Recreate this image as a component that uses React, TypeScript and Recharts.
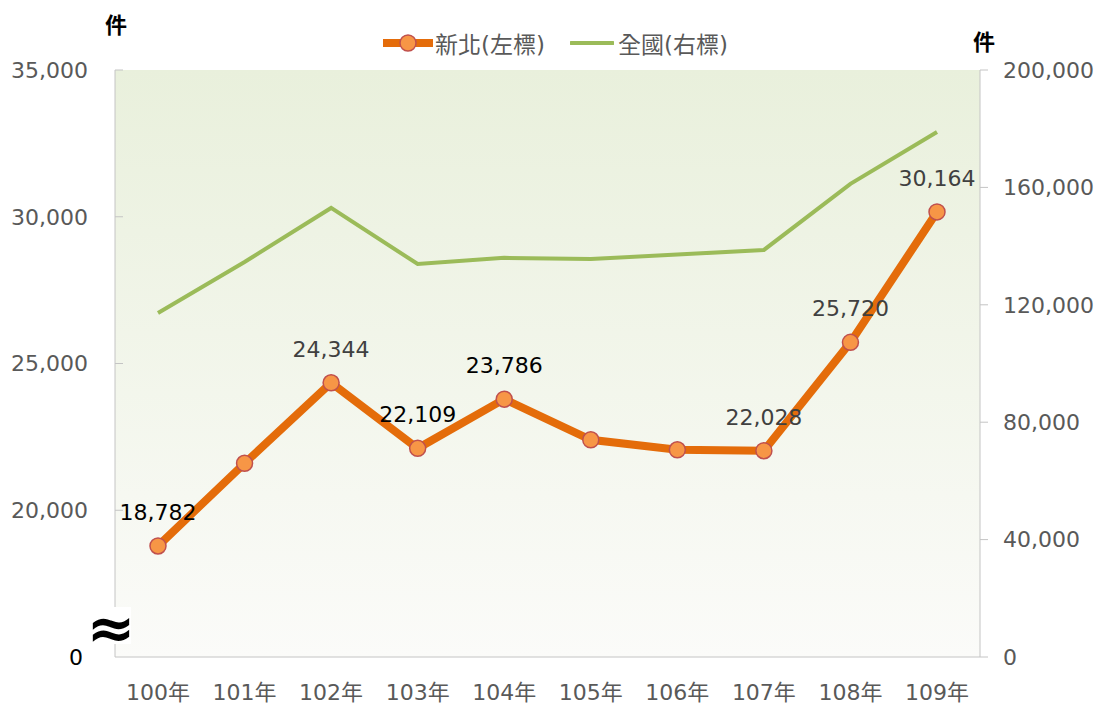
import React from 'react';
import { LineChart, Line, XAxis, YAxis, CartesianGrid, LabelList } from 'recharts';

const years = ['100年', '101年', '102年', '103年', '104年', '105年', '106年', '107年', '108年', '109年'];
const newTaipei = [18782, 21600, 24344, 22109, 23786, 22400, 22060, 22028, 25720, 30164];
const national = [117200, 134600, 153000, 133900, 136000, 135600, 137100, 138700, 161200, 178900];
const labeledYears = ['100年', '102年', '103年', '104年', '107年', '108年', '109年'];
const blackLabelYears = ['100年', '103年', '104年'];
const leftTicks = [15000, 20000, 25000, 30000, 35000];
const rightTicks = [0, 40000, 80000, 120000, 160000, 200000];
const seriesNames = ['新北(左標)', '全國(右標)'];
const unitLabel = '件';

const data = years.map((y, i) => ({ year: y, newTaipei: newTaipei[i], national: national[i] }));

const FONT = '"DejaVu Sans", "Noto Sans CJK TC", sans-serif';
const AXIS = '#C4C4C4';
const TICK_TEXT = '#595959';
const ORANGE = '#E46C0A';
const GREEN = '#9BBB59';

const fmt = (v: number) => v.toLocaleString('en-US');

const LeftTick = (props: any) => {
  const { x, y, payload } = props;
  const v = payload.value as number;
  if (v === leftTicks[0]) {
    return (
      <g>
        <text x={x - 12} y={y} dy="0.36em" textAnchor="middle" fill="#000" fontSize={22} fontFamily={FONT}>0</text>
        <rect x={x + 2} y={y - 50} width={41} height={37} fill="#fff" />
        <text x={x + 23} y={y - 30} dy="0.36em" textAnchor="middle" fill="#000" fontSize={58} fontWeight="bold" fontFamily={FONT}>≈</text>
      </g>
    );
  }
  return (
    <g>
      <line x1={x + 27} x2={x + 35} y1={y} y2={y} stroke={AXIS} strokeWidth={1} />
      <text x={x} y={y} dy="0.36em" textAnchor="end" fill={TICK_TEXT} fontSize={22} fontFamily={FONT}>{fmt(v)}</text>
    </g>
  );
};

const renderLabel = (props: any) => {
  const { x, y, value } = props;
  const idx = newTaipei.indexOf(value);
  const year = years[idx];
  if (!labeledYears.includes(year)) return null;
  return (
    <text x={x} y={y - 26} textAnchor="middle" fill={blackLabelYears.includes(year) ? '#000' : '#404040'} fontSize={22} fontFamily={FONT}>
      {fmt(value)}
    </text>
  );
};

const LegendOverlay = () => (
  <div style={{ position: 'absolute', left: 0, top: 26, width: 1101, display: 'flex', justifyContent: 'center', alignItems: 'center', fontFamily: FONT, fontSize: 23, color: TICK_TEXT, paddingLeft: 10, boxSizing: 'border-box' }}>
    <svg width={50} height={20} style={{ marginRight: 2 }}>
      <line x1={1} x2={49} y1={10} y2={10} stroke={ORANGE} strokeWidth={8} strokeLinecap="round" />
      <circle cx={25} cy={10} r={8} fill="#F79646" stroke="#C0504D" strokeWidth={1.5} />
    </svg>
    <span>{seriesNames[0]}</span>
    <svg width={44} height={20} style={{ marginLeft: 25, marginRight: 4 }}>
      <line x1={1} x2={43} y1={10} y2={10} stroke={GREEN} strokeWidth={4} strokeLinecap="round" />
    </svg>
    <span>{seriesNames[1]}</span>
  </div>
);

export default function App() {
  return (
    <div style={{ position: 'absolute', left: 0, top: 0, width: 1101, height: 704, background: '#fff' }}>
      <LineChart width={1101} height={704} data={data} margin={{ top: 70, right: 0, bottom: 0, left: 0 }}>
        <defs>
          <linearGradient id="bgGrad" x1="0" y1="0" x2="0" y2="1">
            <stop offset="0%" stopColor="#E9F0DC" />
            <stop offset="100%" stopColor="#FBFBF9" />
          </linearGradient>
        </defs>
        <CartesianGrid horizontal={false} vertical={false} fill="url(#bgGrad)" stroke="none" />
        <XAxis
          dataKey="year"
          height={47}
          padding={{ left: 43, right: 43 }}
          axisLine={{ stroke: AXIS }}
          tickLine={false}
          tickSize={0}
          tickMargin={27}
          interval={0}
          tick={{ fill: TICK_TEXT, fontSize: 22, fontFamily: FONT }}
        />
        <YAxis
          yAxisId="left"
          orientation="left"
          width={115}
          domain={[15000, 35000]}
          ticks={leftTicks}
          allowDataOverflow
          axisLine={{ stroke: AXIS }}
          tickLine={false}
          tickSize={0}
          tickMargin={27}
          tick={<LeftTick />}
          interval={0}
        />
        <YAxis
          yAxisId="right"
          orientation="right"
          width={121}
          domain={[0, 200000]}
          ticks={rightTicks}
          axisLine={{ stroke: AXIS }}
          tickLine={{ stroke: AXIS }}
          tickSize={8}
          tickMargin={15}
          interval={0}
          tickFormatter={fmt}
          tick={{ fill: TICK_TEXT, fontSize: 22, fontFamily: FONT }}
        />
        <Line
          yAxisId="right"
          dataKey="national"
          stroke={GREEN}
          strokeWidth={4}
          dot={false}
          activeDot={false}
          isAnimationActive={false}
        />
        <Line
          yAxisId="left"
          dataKey="newTaipei"
          stroke={ORANGE}
          strokeWidth={8}
          dot={{ r: 8, fill: '#F79646', stroke: '#C0504D', strokeWidth: 1.5 }}
          activeDot={false}
          isAnimationActive={false}
        >
          <LabelList dataKey="newTaipei" content={renderLabel} />
        </Line>
      </LineChart>
      <LegendOverlay />
      <div style={{ position: 'absolute', left: 105, top: 12, fontFamily: FONT, fontSize: 22, fontWeight: 'bold', color: '#000', lineHeight: '28px' }}>{unitLabel}</div>
      <div style={{ position: 'absolute', left: 973, top: 29, fontFamily: FONT, fontSize: 22, fontWeight: 'bold', color: '#000', lineHeight: '28px' }}>{unitLabel}</div>
    </div>
  );
}
